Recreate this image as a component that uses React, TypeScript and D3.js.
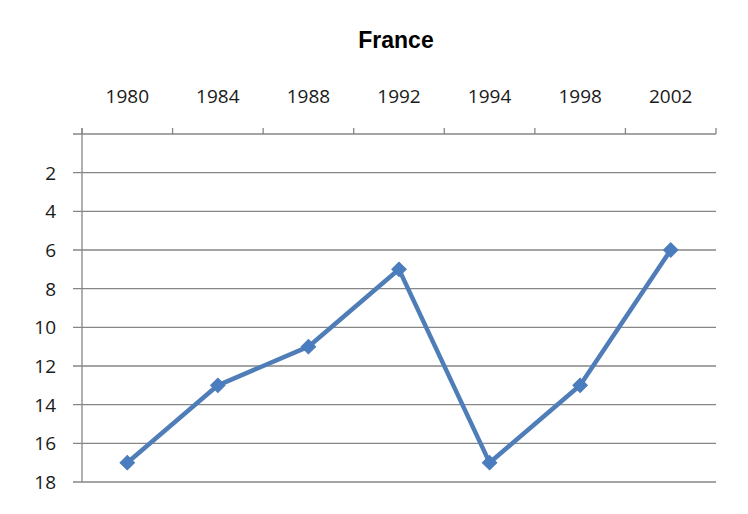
import React from "react";
import * as d3 from "d3";

const categories = ["1980", "1984", "1988", "1992", "1994", "1998", "2002"];
const values = [17, 13, 11, 7, 17, 13, 6];
const yTicks = [2, 4, 6, 8, 10, 12, 14, 16, 18];
const title = "France";

export default function App() {
  const W = 748, H = 514;
  const left = 82, right = 716, top = 134, bottom = 482;
  const x = d3.scaleBand<string>().domain(categories).range([left, right]).padding(0);
  const y = d3.scaleLinear().domain([0, 18]).range([top, bottom]);
  const line = d3
    .line<number>()
    .x((_, i) => (x(categories[i]) as number) + x.bandwidth() / 2)
    .y((d) => y(d));
  const marker = d3.symbol().type(d3.symbolSquare).size(105)();
  const grid = "#868686";
  const font = "'Open Sans', sans-serif";
  const boundaries = [...categories.map((c) => x(c) as number), right];
  return (
    <div style={{ position: "absolute", left: 0, top: 0 }}>
      <svg width={W} height={H} style={{ display: "block", background: "#fff" }}>
        <text x={396} y={48} textAnchor="middle" fontFamily="'Liberation Sans', Arial, sans-serif" fontWeight="bold" fontSize={23} fill="#000">
          {title}
        </text>
        {[0, ...yTicks].map((t) => (
          <line key={"g" + t} x1={73} x2={right} y1={y(t)} y2={y(t)} stroke={grid} strokeWidth={1.3} />
        ))}
        <line x1={left} x2={left} y1={top - 6} y2={bottom} stroke={grid} strokeWidth={1.3} />
        {boundaries.map((b, i) => (
          <line key={"t" + i} x1={b} x2={b} y1={top - 6} y2={top} stroke={grid} strokeWidth={1.3} />
        ))}
        {yTicks.map((t) => (
          <text key={"yl" + t} x={56} y={y(t)} dy="0.36em" textAnchor="end" fontFamily={font} fontSize={19} fill="#1a1a1a">
            {t}
          </text>
        ))}
        {categories.map((c) => (
          <text key={"xl" + c} x={(x(c) as number) + x.bandwidth() / 2} y={103} textAnchor="middle" fontFamily={font} fontSize={19} fill="#1a1a1a">
            {c}
          </text>
        ))}
        <path d={line(values) as string} fill="none" stroke="#4f7db8" strokeWidth={4.5} strokeLinejoin="round" />
        {values.map((v, i) => (
          <path
            key={"m" + i}
            d={marker as string}
            transform={`translate(${(x(categories[i]) as number) + x.bandwidth() / 2},${y(v)}) rotate(45)`}
            fill="#4a7cc0"
            stroke="#4f7db8"
            strokeWidth={1}
          />
        ))}
      </svg>
    </div>
  );
}
